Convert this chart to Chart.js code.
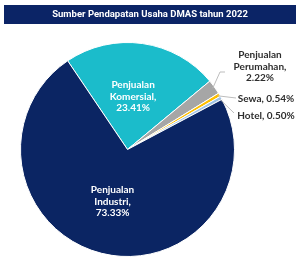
<!DOCTYPE html>
<html>
<head>
<meta charset="utf-8">
<script src="https://cdn.jsdelivr.net/npm/chart.js@4.4.0/dist/chart.umd.min.js"></script>
<style>
  html, body { margin: 0; padding: 0; background: #ffffff; }
  #wrap { width: 300px; height: 260px; position: relative; }
</style>
</head>
<body>
<div id="wrap"><canvas id="pie" width="300" height="260"></canvas></div>
<script>
// data
const titleText = 'Sumber Pendapatan Usaha DMAS tahun 2022';
const categories = ['Penjualan Komersial', 'Penjualan Perumahan', 'Sewa', 'Hotel', 'Penjualan Industri'];
const shares = [23.41, 2.22, 0.54, 0.50, 73.33];
const sliceColors = ['#1BBCCB', '#A6A6A6', '#FFC000', '#9DC3E6', '#0B2563'];

// label text lines for each slice
const labelLines = [
  ['Penjualan', 'Komersial,', '23.41%'],
  ['Penjualan', 'Perumahan,', '2.22%'],
  ['Sewa, 0.54%'],
  ['Hotel, 0.50%'],
  ['Penjualan', 'Industri,', '73.33%']
];
// which labels sit inside the slice
const insideLabel = [true, false, false, false, true];
// outside label anchors (x centre, y of first line) and leader bends
const outsideSpots = {
  1: { x: 260, y: 55, bend: [220, 72], end: [225, 72] },
  2: { x: 266, y: 99, bend: null, end: [236, 98] },
  3: { x: 266, y: 116, bend: null, end: [234, 113] }
};

const titleBar = {
  id: 'titleBar',
  beforeDraw(chart) {
    const ctx = chart.ctx;
    ctx.save();
    ctx.fillStyle = '#0B2466';
    ctx.fillRect(4, 5, 292, 19);
    ctx.fillStyle = '#ffffff';
    ctx.font = 'bold 9.5px Roboto';
    ctx.textAlign = 'center';
    ctx.textBaseline = 'middle';
    ctx.fillText(titleText, 150, 14.5);
    ctx.restore();
  }
};

const sliceLabels = {
  id: 'sliceLabels',
  afterDatasetsDraw(chart) {
    const ctx = chart.ctx;
    const arcs = chart.getDatasetMeta(0).data;
    ctx.save();
    ctx.font = 'bold 10px Lato';
    ctx.textAlign = 'center';
    ctx.textBaseline = 'middle';
    const lh = 11.5;

    arcs.forEach((arc, i) => {
      const lines = labelLines[i];
      if (insideLabel[i]) {
        const p = arc.tooltipPosition();
        ctx.fillStyle = '#ffffff';
        const top = p.y - (lines.length - 1) * lh / 2;
        lines.forEach((t, k) => ctx.fillText(t, p.x - 2, top + k * lh));
      } else {
        const spot = outsideSpots[i];
        // leader line from the slice edge
        const mid = (arc.startAngle + arc.endAngle) / 2;
        const sx = arc.x + Math.cos(mid) * (arc.outerRadius - 2);
        const sy = arc.y + Math.sin(mid) * (arc.outerRadius - 2);
        ctx.strokeStyle = '#BDBDBD';
        ctx.lineWidth = 1;
        ctx.beginPath();
        ctx.moveTo(sx, sy);
        if (spot.bend) ctx.lineTo(spot.bend[0], spot.bend[1]);
        ctx.lineTo(spot.end[0], spot.end[1]);
        ctx.stroke();

        ctx.fillStyle = '#2E2E2E';
        lines.forEach((t, k) => ctx.fillText(t, spot.x, spot.y + k * lh));
      }
    });
    ctx.restore();
  }
};

new Chart(document.getElementById('pie'), {
  type: 'pie',
  data: {
    labels: categories,
    datasets: [{
      data: shares,
      backgroundColor: sliceColors,
      borderColor: '#ffffff',
      borderWidth: 1
    }]
  },
  options: {
    responsive: false,
    animation: false,
    rotation: -34,
    layout: { padding: { left: 20, right: 65, top: 42, bottom: 3 } },
    plugins: {
      legend: { display: false },
      tooltip: { enabled: false }
    }
  },
  plugins: [titleBar, sliceLabels]
});
</script>
</body>
</html>
